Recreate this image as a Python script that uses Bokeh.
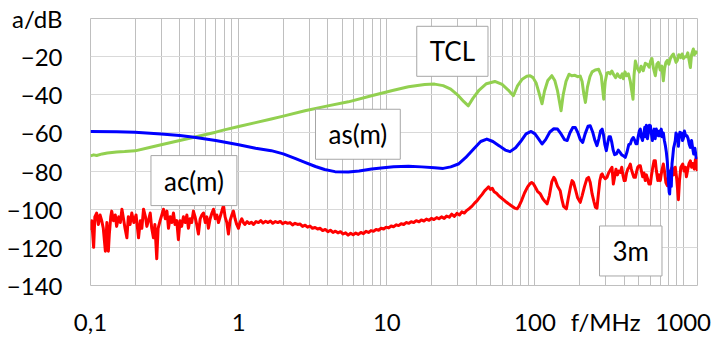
from bokeh.plotting import figure
from bokeh.models import Range1d, FixedTicker, Label
from bokeh.embed import file_html
from bokeh.resources import INLINE

# ---------------- data ----------------
tcl_f = [0.100, 0.105, 0.110, 0.120, 0.130, 0.150, 0.170, 0.200, 0.250, 0.300, 0.400, 0.500,
         0.600, 0.700, 0.800, 1.00, 1.30, 1.66, 2.00, 2.80, 4.00, 5.50, 8.00, 11.1, 14.0, 18.0,
         21.0, 24.0, 27.0, 30.0, 33.0, 35.5, 38.0, 42.0, 47.0, 53.6, 60.0, 66.0, 71.5, 76.0,
         82.0, 88.0, 92.7, 97.0, 102, 106, 111.6, 116, 122, 130, 136, 142, 150, 155, 162, 170,
         177, 186, 194, 202, 208, 214, 219, 226, 235, 243, 255, 269, 280, 291, 298, 306, 314,
         322, 330, 340, 350, 360, 370, 377, 388, 395, 405, 415, 427, 440, 450, 459, 466, 476,
         490, 506, 520, 538, 555, 573, 590, 605, 616, 630, 649, 665, 680, 700, 718, 735, 750,
         765, 782, 800, 820, 840, 859, 875, 895, 914, 935, 960, 984, 1005, 1030, 1052, 1075,
         1098, 1119, 1140, 1160, 1172, 1190, 1210, 1230, 1247]
tcl_db = [-72, -71.5, -71.8, -71, -70.5, -70, -69.8, -69.4, -67.6, -66.2, -64, -62.3,
          -60.8, -59.6, -58.4, -56.6, -54.6, -52.7, -51.2, -48.4, -45.8, -43.7, -40.4, -37.6, -35.8, -34.6,
          -34.4, -35.2, -37, -40, -43.5, -45.8, -42, -37.5, -34.2, -33, -34.6, -37.5, -40.5, -35.5,
          -31.8, -30.3, -30, -31, -34, -38.5, -44.7, -38, -32.5, -30, -32.5, -38, -48.4, -40, -33, -29.2,
          -30, -29.8, -30.5, -30.2, -33, -40, -44, -36, -30.5, -28, -27, -26.6, -30, -42.3, -33, -28.5, -28.3,
          -29, -27.5, -29.5, -31, -29, -30.5, -31, -29, -31.6, -28, -30, -29, -33, -38, -42.3, -30, -22.3,
          -26, -28, -25, -27.4, -23.5, -24, -25.5, -22, -21, -26, -30, -24, -23, -27, -25, -32.7, -26,
          -23, -22, -24, -21, -19.5, -18.6, -20.5, -23, -22, -19, -20.5, -18.6, -21, -20, -20, -18,
          -22, -25.7, -19, -17, -16, -19, -17.5, -18, -17]

as_f = [0.100, 0.150, 0.200, 0.300, 0.400, 0.500, 0.700, 1.00, 1.30, 1.66, 2.00, 2.40, 2.80,
        3.30, 3.80, 4.47, 5.50, 6.50, 7.90, 9.50, 11.1, 14.0, 17.2, 21.0, 24.0, 27.0, 30.4, 34.0,
        38.4, 43.0, 47.3, 52.0, 57.5, 63.0, 67.9, 74.0, 80.0, 87.0, 94.2, 100, 106, 111.6, 118,
        126, 134, 142, 150, 158, 165, 172, 180, 187, 195, 202, 210, 218, 228, 236, 245, 254, 262,
        270, 277, 284, 290, 296, 303, 310, 316, 323, 330, 337, 345, 355, 365, 375, 385, 395, 407,
        418, 430, 440, 450, 461, 472, 480, 489, 497, 506, 514, 522, 532, 543, 551, 558, 565, 574,
        582, 592, 601, 612, 620, 629, 638, 648, 659, 670, 680, 692, 701, 712, 722, 735, 747, 759,
        770, 782, 795, 805, 811, 818, 825, 832, 841, 852, 862, 874, 885, 895, 905, 917, 929, 940,
        950, 962, 975, 990, 1003, 1020, 1040, 1061, 1080, 1100, 1119, 1140, 1160, 1178, 1200,
        1225, 1247]
as_db = [-59.3, -59.4, -59.7, -60.5, -61.3, -62.3, -64, -66.2, -68, -69.3, -71, -73.3, -75.4,
         -77.6, -79.2, -80.3, -80.5, -80, -78.9, -78.2, -77.7, -77.5, -77.8, -78.3, -78.6, -77.8, -76.3, -73,
         -68.6, -64.5, -63.2, -64.5, -66.8, -69, -69.8, -67.8, -64.5, -60.5, -59.2, -60.5, -63.3, -65.8, -63.5,
         -59.5, -57.8, -58, -60.5, -63.5, -64, -60, -57.2, -57.1, -60, -63.5, -65, -60.5, -56.5, -56.2, -59.5, -64, -66.7,
         -63, -59, -58, -61, -66, -69.3, -65, -62, -62, -65, -69, -71.4, -71, -69, -70.2, -71.5, -72, -72.8,
         -70, -66, -65.8, -63.5, -62.4, -64, -65.7, -65.7, -62, -59, -58, -62, -64, -60, -57, -62, -56, -63,
         -60, -56, -56.2, -61, -64, -60, -58, -63, -58, -60, -61.5, -59, -61.5, -58, -62, -60, -64, -66.7,
         -70, -75, -85, -91, -92, -86, -80, -88, -76.3, -72, -68, -66, -64, -60, -63, -61, -67, -62,
         -59.7, -62, -60, -64, -63, -59, -61.5, -61.5, -63, -66, -67.6, -64, -68, -71, -68,
         -73, -72.8]

ac_f = [0.100, 0.102, 0.105, 0.107, 0.110, 0.113, 0.116, 0.119, 0.122, 0.126, 0.129, 0.132, 0.134,
        0.137, 0.139, 0.143, 0.147, 0.150, 0.155, 0.159, 0.163, 0.167, 0.171, 0.176, 0.180, 0.185,
        0.190, 0.196, 0.203, 0.211, 0.217, 0.222, 0.228, 0.235, 0.240, 0.246, 0.253, 0.259, 0.266,
        0.272, 0.280, 0.286, 0.295, 0.303, 0.311, 0.320, 0.328, 0.336, 0.345, 0.354, 0.363, 0.372,
        0.382, 0.392, 0.402, 0.412, 0.424, 0.436, 0.447, 0.458, 0.470, 0.482, 0.495, 0.508, 0.521,
        0.535, 0.550, 0.565, 0.579, 0.595, 0.610, 0.625, 0.642, 0.660, 0.676, 0.695, 0.712, 0.731,
        0.750, 0.770, 0.790, 0.810, 0.832, 0.853, 0.875, 0.900, 0.922, 0.946, 0.970, 0.997, 1.02,
        1.05, 1.077, 1.10, 1.14, 1.18, 1.22, 1.26, 1.31, 1.36, 1.41, 1.46, 1.52, 1.58, 1.64, 1.70,
        1.77, 1.84, 1.91, 1.98, 2.06, 2.14, 2.22, 2.31, 2.40, 2.50, 2.60, 2.70, 2.81, 2.92, 3.03,
        3.15, 3.28, 3.41, 3.55, 3.69, 3.84, 4.00, 4.16, 4.33, 4.50, 4.68, 4.87, 5.07, 5.27, 5.48,
        5.70, 5.93, 6.17, 6.42, 6.68, 6.95, 7.23, 7.52, 7.82, 8.13, 8.46, 8.80, 9.15, 9.52, 9.90,
        10.3, 10.7, 11.1, 11.6, 12.0, 12.5, 13.0, 13.5, 14.1, 14.6, 15.2, 15.8, 16.5, 17.1, 17.8,
        18.5, 19.3, 20.0, 20.8, 21.7, 22.5, 23.4, 24.4, 25.3, 26.4, 27.4, 28.5, 29.7, 30.9, 32.1,
        33.4, 34.7, 36.1, 37.6, 39.1, 40.6, 42.3, 44.0, 45.7, 47.6, 48.6, 50.0, 51.5, 53.0, 55.0,
        57.0, 60.0, 63.0, 66.0, 70.0, 73.0, 75.7, 78.0, 81.0, 85.0, 89.0, 92.0, 95.0, 97.5, 100.6,
        104, 108.7, 113, 117, 120.7, 125, 130, 134, 137, 142, 148, 152, 156, 163, 168, 174, 178,
        182, 188, 194, 202, 208, 216, 224, 230, 236, 243, 250, 256, 262, 268, 274, 280, 284, 290,
        298, 306, 314, 322, 331, 338, 345, 352, 360, 368, 377, 385, 392, 400, 407, 415, 423, 431,
        440, 447, 455, 465, 476, 486, 494, 504, 514, 523, 533, 544, 555, 565, 575, 588, 601, 612,
        624, 636, 649, 660, 675, 688, 701, 717, 735, 748, 765, 782, 800, 821, 841, 862, 885, 905,
        929, 945, 965, 994, 1015, 1035, 1052, 1075, 1097, 1119, 1140, 1160, 1190, 1210, 1230, 1247]
ac_db = [-111, -106, -120, -104, -102, -108, -103, -106, -110, -122, -107, -122, -113,
         -104, -101, -106, -103, -109, -104, -107, -100, -105, -110, -115, -104, -108,
         -102, -107, -103, -115, -106, -110, -100, -104, -109, -106, -102, -110, -115,
         -108, -126, -110, -106, -103, -100, -105, -101, -110, -104, -107, -102, -108,
         -106, -116, -106, -109, -104, -107, -103, -110, -105, -107, -101, -104, -108,
         -113, -105, -103, -102, -107, -104, -110, -105, -102, -100, -105, -103, -107,
         -104, -101, -98, -104, -107, -113, -106, -103, -101, -105, -108, -110, -107,
         -105, -107, -108, -106.5, -107.5, -106.8, -108, -106.5, -107, -106, -107.2, -106.3, -107, -106.2, -107.4,
         -106.5, -107, -106.4, -107.6, -106.8, -107.4, -107, -108.2, -107.4, -108, -107.8, -109, -108.4, -109.4, -108.8,
         -110, -109.6, -110.4, -110, -111.2, -110.6, -111.8, -111, -112.2, -111.5, -112.4, -111.8, -113, -112.4, -113.6,
         -112.6, -113.4, -112.5, -113.2, -112.2, -112.8, -111.6, -112.2, -111.2, -111.6, -110.6, -111, -110, -110.4, -109.4,
         -109.8, -108.8, -109.2, -108.2, -108.6, -107.6, -108, -107, -107.4, -106.6, -107, -106, -106.6, -105.6, -106.2,
         -105.2, -105.8, -104.8, -105.4, -104.4, -105, -104, -104.8, -103.6, -104.2, -102.6, -103.8, -102.2, -103, -101.4,
         -102, -100.6, -99.6, -98.4, -96.8, -95.6, -93.8, -92.2, -90.4, -89, -88.3, -89.6, -89, -90.8, -91.6,
         -93, -94.4, -95.8, -97, -98.4, -99.4, -99.8, -98.4, -95.6, -91.5, -88.4, -86.8, -86, -86.6, -88.5,
         -90.6, -92, -94.5, -96, -97.2, -93, -85.5, -83.3, -84.5, -88, -90.3, -95, -98.5, -99.8, -94, -88, -85,
         -86, -90, -94, -96.4, -93, -88, -84, -83.3, -86, -92, -96, -99, -99.5, -92, -85, -82, -81.5, -83,
         -84, -83.3, -81, -79.5, -78, -86.8, -83, -79, -82, -80, -80.7, -78, -82, -85, -85, -81, -79, -78,
         -76.3, -79, -81, -83.3, -83.3, -80, -78, -77.2, -77.2, -80, -83, -81, -85, -82, -84, -86.8, -86.8, -82,
         -78, -74.6, -74.6, -80, -85, -82, -85, -80, -76.3, -80, -86, -87.6, -82, -80, -78, -82, -78, -84,
         -95, -85, -78, -76.3, -80, -78, -83, -79, -76, -74.6, -78, -76, -79, -74, -73, -80]

x_major = [0.1, 1, 10, 100, 300, 1000]
x_labels = {0.1: "0,1", 1: "1", 10: "10", 100: "100", 300: "f/MHz", 1000: "1000"}
y_ticks = [-140, -120, -100, -80, -60, -40, -20, 0]
y_labels = {0: "a/dB"}

FONT = "Lato"
TICK_FS = "24px"
BOX_FS = "26px"

p = figure(width=728, height=340, x_axis_type="log",
           x_range=Range1d(0.1, 1250), y_range=Range1d(-140, 0),
           output_backend="svg", toolbar_location=None,
           min_border_left=90, min_border_right=31, min_border_top=18, min_border_bottom=55)
p.background_fill_color = "white"
p.border_fill_color = "white"
p.outline_line_color = "#BFBFBF"

minor = [k * d for d in [0.1, 1, 10, 100, 1000] for k in range(2, 10) if k * d < 1250]
p.xaxis.ticker = FixedTicker(ticks=x_major, minor_ticks=minor)
p.xaxis.major_label_overrides = x_labels
p.yaxis.ticker = FixedTicker(ticks=y_ticks)
p.yaxis.major_label_overrides = y_labels

for ax in (p.xaxis[0], p.yaxis[0]):
    ax.axis_line_color = None
    ax.major_tick_line_color = None
    ax.minor_tick_line_color = None
    ax.major_tick_out = 0
    ax.minor_tick_out = 0
    ax.major_tick_in = 0
    ax.minor_tick_in = 0
    ax.major_label_text_font = FONT
    ax.major_label_text_font_size = TICK_FS
    ax.major_label_text_color = "black"
p.yaxis.major_label_standoff = 28
p.xaxis.major_label_standoff = 21

p.xgrid.grid_line_color = "#BFBFBF"
p.xgrid.minor_grid_line_color = "#BFBFBF"
p.ygrid.grid_line_color = "#D9D9D9"

p.line(tcl_f, tcl_db, line_color="#92D050", line_width=3, line_join="round")
p.line(ac_f, ac_db, line_color="#FF0000", line_width=3, line_join="round")
p.line(as_f, as_db, line_color="#0000FF", line_width=3, line_join="round")

def box(x, y, t):
    p.add_layout(Label(x=x, y=y, text=t, text_font=FONT, text_font_size=BOX_FS,
                       text_color="black", text_align="center", text_baseline="middle",
                       background_fill_color="white", border_line_color="#A6A6A6",
                       border_line_width=1, padding=(13, 9)))

box(27.7, -17.2, "TCL")
box(6.38, -60.7, "as(m)")
box(0.499, -85, "ac(m)")
box(443, -121.9, "3m")

open("out.html", "w").write(file_html(p, INLINE))
